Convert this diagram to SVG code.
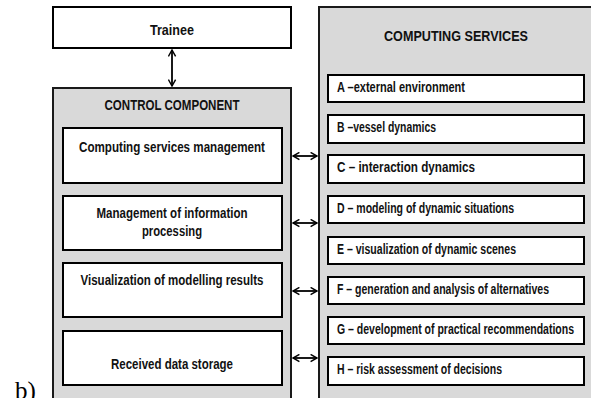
<svg xmlns="http://www.w3.org/2000/svg" width="591" height="398" viewBox="0 0 591 398">
<defs>
<marker id="ah" viewBox="0 0 10 10" refX="9" refY="5" markerWidth="8" markerHeight="9" markerUnits="userSpaceOnUse" orient="auto-start-reverse">
<path d="M1,0.5 L9,5 L1,9.5" fill="none" stroke="#000" stroke-width="1.8"/>
</marker>
<style>
.panel{fill:#d9d9d9;stroke:#1a1a1a;stroke-width:2}
.box{fill:#fff;stroke:#000;stroke-width:2}
.t{font-family:"Liberation Sans",Arial,sans-serif;font-weight:bold;fill:#111;font-size:15px}
.c{text-anchor:middle}
.h{font-size:15.5px}
.s{font-size:14px}
.conn{stroke:#000;stroke-width:1.8;fill:none;marker-start:url(#ah);marker-end:url(#ah)}
</style>
</defs>
<text x="15" y="399" font-family="'Liberation Serif',serif" font-size="25" fill="#000">b)</text>
<g id="trainee">
<rect class="box" x="53" y="7" width="238" height="41"/>
<text class="t c" x="172" y="35" textLength="44" lengthAdjust="spacingAndGlyphs">Trainee</text>
</g>
<g id="control-component">
<rect class="panel" x="53" y="88" width="238" height="315"/>
<text class="t c h" x="172" y="110" textLength="135" lengthAdjust="spacingAndGlyphs">CONTROL COMPONENT</text>
</g>
<g id="computing-services-management">
<rect class="box" x="63" y="128" width="219" height="55"/>
<text class="t c" x="172" y="152" textLength="186" lengthAdjust="spacingAndGlyphs">Computing services management</text>
</g>
<g id="information-processing">
<rect class="box" x="63" y="196" width="219" height="54"/>
<text class="t c" x="172" y="218" textLength="151" lengthAdjust="spacingAndGlyphs">Management of information</text>
<text class="t c" x="172" y="236" textLength="60" lengthAdjust="spacingAndGlyphs">processing</text>
</g>
<g id="visualization-results">
<rect class="box" x="63" y="263" width="219" height="54"/>
<text class="t c" x="172" y="285" textLength="183" lengthAdjust="spacingAndGlyphs">Visualization of modelling results</text>
</g>
<g id="data-storage">
<rect class="box" x="63" y="331" width="219" height="54"/>
<text class="t c" x="172" y="369" textLength="122" lengthAdjust="spacingAndGlyphs">Received data storage</text>
</g>
<g id="computing-services">
<rect class="panel" x="319" y="7" width="280" height="396"/>
<text class="t c h" x="456" y="41" textLength="144" lengthAdjust="spacingAndGlyphs">COMPUTING SERVICES</text>
</g>
<g id="service-a"><rect class="box" x="328" y="75" width="256" height="27"/><text class="t s" x="337" y="92" textLength="128" lengthAdjust="spacingAndGlyphs">A –external environment</text></g>
<g id="service-b"><rect class="box" x="328" y="115" width="256" height="28"/><text class="t s" x="337" y="132" textLength="99" lengthAdjust="spacingAndGlyphs">B –vessel dynamics</text></g>
<g id="service-c"><rect class="box" x="328" y="155" width="256" height="28"/><text class="t s" x="337" y="172" textLength="138" lengthAdjust="spacingAndGlyphs">C – interaction dynamics</text></g>
<g id="service-d"><rect class="box" x="328" y="196" width="256" height="27"/><text class="t s" x="337" y="213" textLength="177" lengthAdjust="spacingAndGlyphs">D – modeling of dynamic situations</text></g>
<g id="service-e"><rect class="box" x="328" y="237" width="256" height="27"/><text class="t s" x="337" y="254" textLength="179" lengthAdjust="spacingAndGlyphs">E – visualization of dynamic scenes</text></g>
<g id="service-f"><rect class="box" x="328" y="277" width="256" height="27"/><text class="t s" x="337" y="294" textLength="212" lengthAdjust="spacingAndGlyphs">F – generation and analysis of alternatives</text></g>
<g id="service-g"><rect class="box" x="328" y="317" width="256" height="27"/><text class="t s" x="337" y="334" textLength="237" lengthAdjust="spacingAndGlyphs">G – development of practical recommendations</text></g>
<g id="service-h"><rect class="box" x="328" y="357" width="256" height="28"/><text class="t s" x="337" y="374" textLength="165" lengthAdjust="spacingAndGlyphs">H – risk assessment of decisions</text></g>
<g id="connectors">
<line class="conn" x1="172" y1="50" x2="172" y2="86"/>
<line class="conn" x1="293" y1="156" x2="317" y2="156"/>
<line class="conn" x1="293" y1="223" x2="317" y2="223"/>
<line class="conn" x1="293" y1="291" x2="317" y2="291"/>
<line class="conn" x1="293" y1="358" x2="317" y2="358"/>
</g>
</svg>
